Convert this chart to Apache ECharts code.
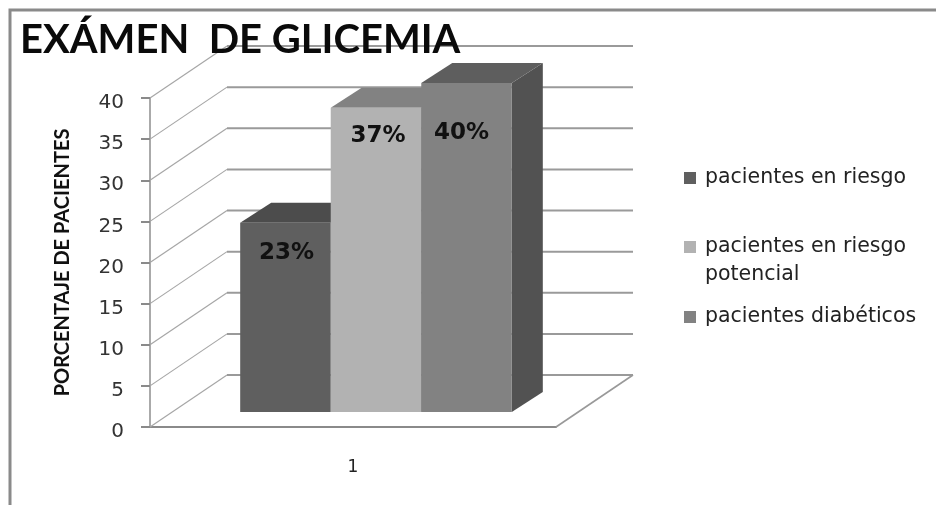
<!DOCTYPE html>
<html>
<head>
<meta charset="utf-8">
<script src="https://cdn.jsdelivr.net/npm/echarts@6/dist/echarts.min.js"></script>
<style>html,body{margin:0;padding:0;background:#fff}#c{width:936px;height:505px}</style>
</head>
<body>
<div id="c"></div>
<script>
// Values
const categories = ['1'];
const seriesNames = ['pacientes en riesgo', 'pacientes en riesgo\npotencial', 'pacientes diabéticos'];
const seriesValues = [23, 37, 40];
const tickValues = [0, 5, 10, 15, 20, 25, 30, 35, 40];

// Shading of each box: front, top, side
const faceColors = [
  ['#5f5f5f', '#4c4c4c', '#454545'],
  ['#b2b2b2', '#828282', '#6e6e6e'],
  ['#828282', '#5e5e5e', '#525252']
];
// Text placement inside each front face, relative to its centre and top edge
const labelShift = [[1, 30], [2, 28], [-5, 50]];

// Oblique projection of the floor
const wallDepth = [77, -52];
const boxFront = [23, -15];
const boxDepth = [31, -20];
const bandShare = 0.223;
const frameColor = '#8a8a8a';
const gridColor = '#9a9a9a';

function renderWalls(params, api) {
  const v = api.value(1);
  const p = api.coord([0, v]);
  const size = api.size([1, 0]);
  const front = p[0] - size[0] / 2;
  const backX = front + wallDepth[0];
  const backY = p[1] + wallDepth[1];
  const children = [
    { type: 'line', shape: { x1: front, y1: p[1], x2: backX, y2: backY },
      style: { stroke: '#a6a6a6', lineWidth: 1.2 } },
    { type: 'line', shape: { x1: backX, y1: backY, x2: front + size[0] + wallDepth[0], y2: backY },
      style: { stroke: gridColor, lineWidth: 2 } }
  ];
  if (v === 0) {
    const right = front + size[0];
    children.push({ type: 'line', shape: { x1: right, y1: p[1], x2: right + wallDepth[0], y2: backY },
      style: { stroke: '#999999', lineWidth: 1.6 } });
  }
  return { type: 'group', children };
}

function boxRenderer(index) {
  return function (params, api) {
    const v = api.value(1);
    const top = api.coord([0, v]);
    const base = api.coord([0, 0]);
    const w = api.size([1, 0])[0] * bandShare;
    const x0 = top[0] + boxFront[0] + (index - 1.5) * w;
    const x1 = x0 + w;
    const y0 = top[1] + boxFront[1];
    const y1 = base[1] + boxFront[1];
    const dx = boxDepth[0];
    const dy = boxDepth[1];
    const colors = faceColors[index];
    const poly = (pts, fill) => ({ type: 'polygon', shape: { points: pts }, style: { fill } });
    return {
      type: 'group',
      children: [
        poly([[x1, y0], [x1 + dx, y0 + dy], [x1 + dx, y1 + dy], [x1, y1]], colors[2]),
        poly([[x0, y0], [x0 + dx, y0 + dy], [x1 + dx, y0 + dy], [x1, y0]], colors[1]),
        poly([[x0, y0], [x1, y0], [x1, y1], [x0, y1]], colors[0]),
        {
          type: 'text',
          style: {
            x: (x0 + x1) / 2 + labelShift[index][0],
            y: y0 + labelShift[index][1],
            text: v + '%',
            fill: '#111',
            font: 'bold 23px "DejaVu Sans", sans-serif',
            align: 'center',
            verticalAlign: 'middle'
          }
        }
      ]
    };
  };
}

const legendTops = [159, 228, 298];
const legendIcons = [
  'rect',
  'path://M0,0H12V12H0Z M0,40H0.01V40.01H0Z',
  'rect'
];
const legends = seriesNames.map((name, i) => ({
  show: true,
  left: 679,
  top: legendTops[i],
  selectedMode: false,
  icon: legendIcons[i],
  itemWidth: 12,
  itemHeight: i === 1 ? 40 : 12,
  itemGap: 0,
  data: [name],
  textStyle: {
    fontFamily: '"DejaVu Sans", sans-serif',
    fontSize: 20.5,
    lineHeight: 28,
    color: '#222',
    padding: [0, 0, 0, 4]
  }
}));

const option = {
  animation: false,
  backgroundColor: '#ffffff',
  title: {
    text: 'EXÁMEN  DE GLICEMIA',
    left: 15,
    top: 15,
    z: 20,
    textStyle: { fontFamily: 'Lato, sans-serif', fontWeight: 'bold', fontSize: 40, color: '#0a0a0a' }
  },
  legend: legends,
  grid: { left: 150, right: 380, top: 98, bottom: 78 },
  xAxis: {
    type: 'category',
    data: categories,
    axisLine: { lineStyle: { color: frameColor, width: 2 } },
    axisTick: { length: 7, lineStyle: { color: frameColor, width: 2 } },
    axisLabel: { margin: 32, fontFamily: '"DejaVu Sans", sans-serif', fontSize: 17, color: '#222' }
  },
  yAxis: {
    type: 'value',
    min: 0,
    max: 40,
    interval: 5,
    name: 'PORCENTAJE DE PACIENTES',
    nameLocation: 'middle',
    nameGap: 77,
    nameTextStyle: { fontFamily: 'Lato, sans-serif', fontWeight: 'bold', fontSize: 20, color: '#111' },
    splitLine: { show: false },
    axisLine: { show: true, lineStyle: { color: '#aaaaaa', width: 2 } },
    axisTick: { show: true, length: 9, lineStyle: { color: frameColor, width: 2 } },
    axisLabel: { margin: 26, verticalAlign: 'top', lineHeight: 10, fontFamily: '"DejaVu Sans", sans-serif', fontSize: 20, color: '#333' }
  },
  series: [
    {
      name: 'walls',
      type: 'custom',
      silent: true,
      z: 1,
      renderItem: renderWalls,
      data: tickValues.map(v => [0, v])
    }
  ].concat(seriesNames.map((name, i) => ({
    name,
    type: 'custom',
    z: 2 + i,
    silent: true,
    itemStyle: { color: faceColors[i][0] },
    renderItem: boxRenderer(i),
    data: [[0, seriesValues[i]]]
  }))),
  graphic: [
    { type: 'polyline', silent: true, z: 0,
      shape: { points: [[10, 505], [10, 10], [936, 10]] },
      style: { stroke: frameColor, lineWidth: 3, fill: null } }
  ]
};

echarts.init(document.getElementById('c'), null, { renderer: 'canvas' }).setOption(option);
</script>
</body>
</html>
